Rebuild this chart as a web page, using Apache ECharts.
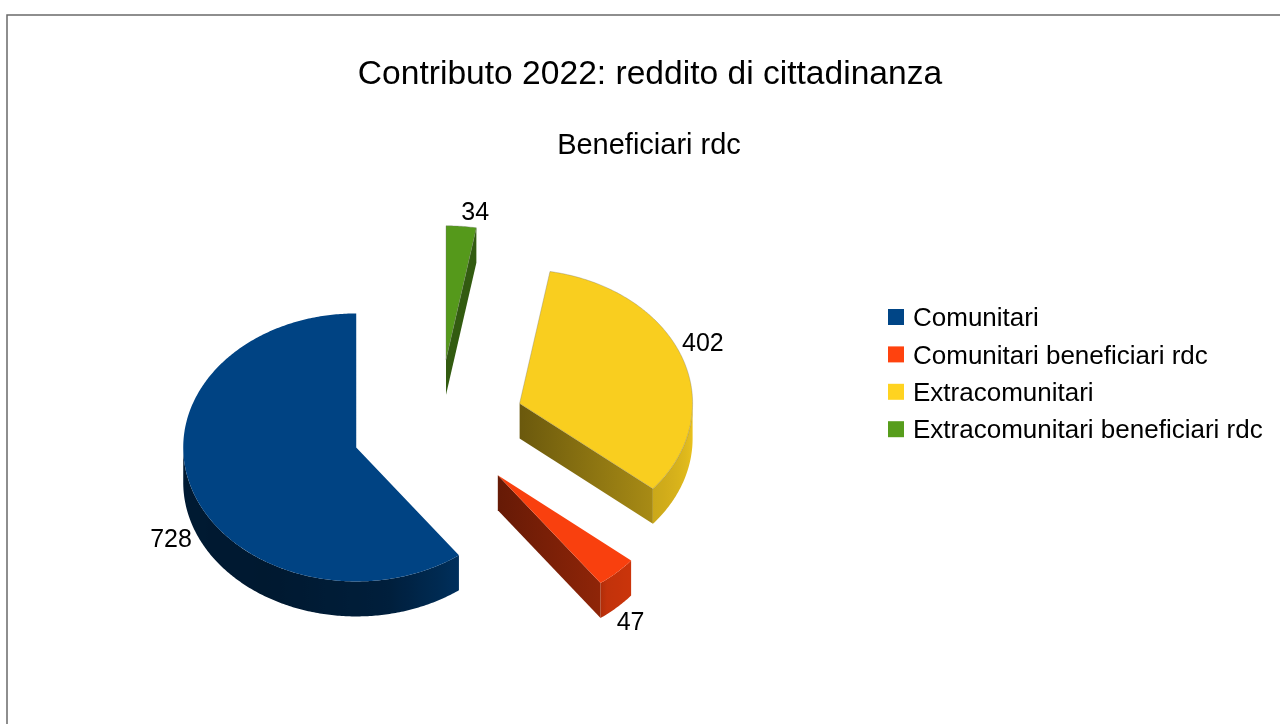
<!DOCTYPE html>
<html><head><meta charset="utf-8">
<script src="https://cdn.jsdelivr.net/npm/echarts@6/dist/echarts.min.js"></script>
<style>html,body{margin:0;padding:0;background:#fff}#c{width:1280px;height:724px}</style>
</head><body><div id="c"></div>
<script>
const categories = ['Comunitari', 'Comunitari beneficiari rdc', 'Extracomunitari', 'Extracomunitari beneficiari rdc'];
const values = [728, 47, 402, 34];
const colors = ['#004586', '#ff420e', '#ffd320', '#579d1c'];

const FONT = '"Liberation Sans", Arial, sans-serif';
const PIE = { cx: 438.4, cy: 426.5, rx: 173, ry: 134, depth: 35, explode: 0.5 };
const total = values.reduce((a, b) => a + b, 0);

function hex(c) { return [1, 3, 5].map(i => parseInt(c.substr(i, 2), 16)); }
function shade(c, f) { const r = hex(c).map(v => Math.round(v * f)); return 'rgb(' + r.join(',') + ')'; }
function lerpTable(t, a) {
  for (let i = 1; i < t.length; i++) {
    if (a <= t[i][0]) { const p = (a - t[i - 1][0]) / (t[i][0] - t[i - 1][0]); return t[i - 1][1] + p * (t[i][1] - t[i - 1][1]); }
  }
  return t[t.length - 1][1];
}
const rimLight = [[90, .38], [150, .36], [190, .44], [216, .68], [219, .76], [232, .8], [270, .93]];

function renderSlice(index) {
  return function (params, api) {
    const v = api.value(0);
    let before = 0;
    for (let i = 0; i < index; i++) before += values[i];
    const a0 = before / total * 360, a1 = a0 + v / total * 360, mid = (a0 + a1) / 2;
    const col = colors[index];
    const R = d => d * Math.PI / 180;
    const ux = a => -PIE.rx * Math.sin(R(a)), uy = a => -PIE.ry * Math.cos(R(a));
    const cx = PIE.cx + ux(mid) * PIE.explode, cy = PIE.cy + uy(mid) * PIE.explode;
    const pt = a => [cx + ux(a), cy + uy(a)];
    const arc = (s, e) => { const n = Math.max(2, Math.ceil(Math.abs(e - s) * 1.5)), o = []; for (let i = 0; i <= n; i++) o.push(pt(s + (e - s) * i / n)); return o; };
    const down = p => [p[0], p[1] + PIE.depth];
    const children = [];
    const wall = (p, lo, hi) => {
      const o = [cx, cy];
      const x0 = Math.min(o[0], p[0]), x1 = Math.max(o[0], p[0]);
      children.push({
        type: 'polygon', shape: { points: [o, p, down(p), down(o)] }, silent: true,
        style: { fill: new echarts.graphic.LinearGradient(x0, 0, x1, 0, [{ offset: 0, color: shade(col, lo) }, { offset: 1, color: shade(col, hi) }], true) }
      });
    };
    // radial cut face turned towards the viewer (leading edge of the slice)
    if (a0 > 200 && a0 < 232) wall(pt(a0), index === 2 ? .42 : .4, index === 2 ? .66 : .56);
    if (a0 > 340) wall(pt(a0), .58, .58);
    // rim on the front half of the ellipse
    const rs = Math.max(a0, 90), re = Math.min(a1, 270);
    if (re > rs) {
      const top = arc(rs, re), bottom = top.map(down).reverse();
      const xs = top.map(p => p[0]);
      const x0 = Math.min(...xs), x1 = Math.max(...xs);
      const stops = top.map((p, idx) => ({
        offset: x1 > x0 ? (p[0] - x0) / (x1 - x0) : 0,
        color: shade(col, lerpTable(rimLight, rs + (re - rs) * idx / (top.length - 1)))
      })).filter((s, i) => i % 4 === 0 || i === top.length - 1).sort((m, n) => m.offset - n.offset);
      children.push({
        type: 'polygon', shape: { points: top.concat(bottom) }, silent: true,
        style: { fill: new echarts.graphic.LinearGradient(x0, 0, x1, 0, stops, true) }
      });
    }
    // top face
    children.push({
      type: 'polygon', shape: { points: [[cx, cy]].concat(arc(a0, a1)) }, silent: true,
      style: { fill: shade(col, .975), stroke: index >= 2 ? 'rgba(110,110,110,0.4)' : null, lineWidth: 0.8 }
    });
    // value label
    const p = pt(mid), below = p[1] > cy, right = p[0] > cx;
    children.push({
      type: 'text', silent: true,
      style: {
        text: String(v), x: p[0], y: below ? p[1] + PIE.depth + 3 : p[1] - 1,
        align: right ? 'left' : 'right', verticalAlign: below ? 'top' : 'bottom',
        font: '25px ' + FONT, fill: '#000'
      }
    });
    return { type: 'group', children };
  };
}

const chart = echarts.init(document.getElementById('c'), null, { renderer: 'canvas' });
chart.setOption({
  animation: false,
  backgroundColor: '#fff',
  title: [
    { text: 'Contributo 2022: reddito di cittadinanza', left: 650, top: 58, padding: 0, textAlign: 'center', textStyle: { fontFamily: FONT, fontSize: 33.6, fontWeight: 'normal', color: '#000' } },
    { text: 'Beneficiari rdc', left: 649, top: 131, padding: 0, textAlign: 'center', textStyle: { fontFamily: FONT, fontSize: 29, fontWeight: 'normal', color: '#000' } }
  ],
  legend: {
    orient: 'vertical', left: 888, top: 302, itemWidth: 16, itemHeight: 16, itemGap: 7.4, padding: 0,
    icon: 'rect', selectedMode: false, data: categories,
    formatter: n => '{t|' + n + '}',
    textStyle: {
      padding: [0, 0, 0, 4],
      rich: { t: { fontFamily: FONT, fontSize: 26, lineHeight: 28, color: '#000', padding: [4, 0, 0, 0] } }
    }
  },
  graphic: [{
    type: 'polyline', silent: true, z: -1,
    shape: { points: [[7, 724], [7, 15], [1280, 15]] },
    style: { stroke: '#6a6a6a', lineWidth: 1.5, fill: null }
  }],
  series: categories.map((name, i) => ({
    type: 'custom', name, coordinateSystem: 'none', silent: true, clip: false,
    itemStyle: { color: colors[i] }, data: [values[i]], renderItem: renderSlice(i)
  }))
});
</script></body></html>
